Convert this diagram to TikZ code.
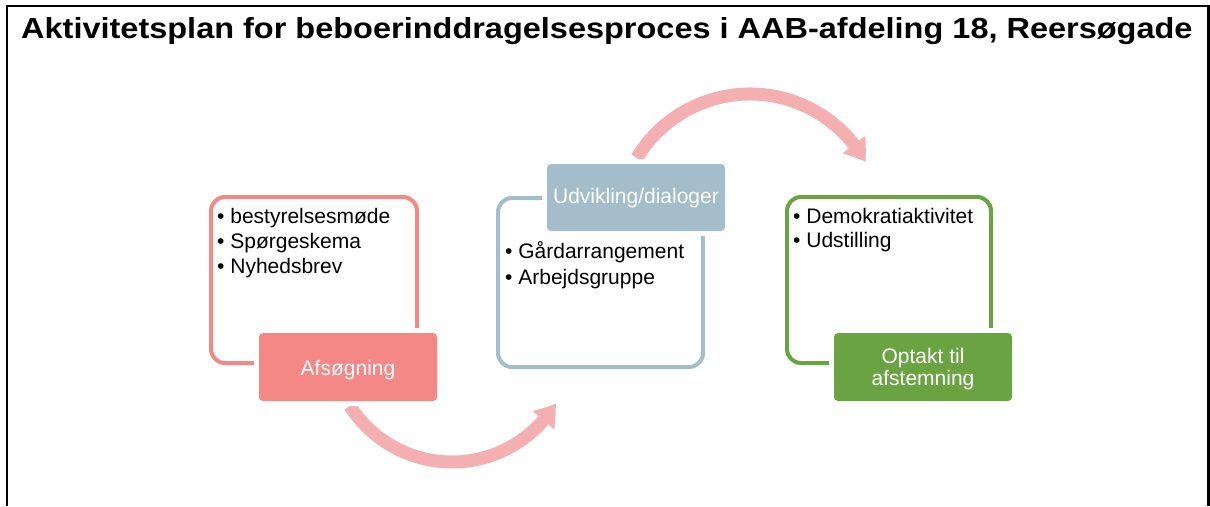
\documentclass[tikz,border=0pt]{standalone}
\usepackage{fontspec}
\setmainfont{Liberation Sans}
\usetikzlibrary{arrows.meta,bending}
\definecolor{redc}{RGB}{244,136,134}
\definecolor{arrc}{RGB}{244,176,176}
\definecolor{bluec}{RGB}{163,190,202}
\definecolor{greenc}{RGB}{106,164,66}
\tikzset{
  outlinebox/.style={line width=4pt, rounded corners=14pt},
  gapbox/.style={draw=white, fill=white, line width=10pt, rounded corners=4pt},
  fillbox/.style={rounded corners=4pt},
  bullet/.style={anchor=base west, inner sep=0pt, font=\fontsize{21}{25}\selectfont},
  boxlabel/.style={anchor=base, inner sep=0pt, text=white, font=\fontsize{21}{22}\selectfont, align=center},
  bigarrow/.style={draw=arrc, line width=13pt, -{Triangle[width=27pt,length=21pt,bend]}},
  frameline/.style={line width=2.2pt, black}
}
\begin{document}
\begin{tikzpicture}[x=1pt,y=-1pt]
\useasboundingbox (0,0) rectangle (1210,506);
% frame
\coordinate (f1) at (7,506);
\coordinate (f2) at (7,6);
\coordinate (f3) at (1208.5,6);
\coordinate (f4) at (1208.5,506);
\draw[frameline] (f1) -- (f2) -- (f3) -- (f4);
% title
\node[anchor=base west, inner sep=0pt, font=\fontsize{29}{30}\selectfont\bfseries] (title) at (21,38)
  {\scalebox{1.12}[1]{Aktivitetsplan for beboerinddragelsesproces i AAB-afdeling 18, Reersøgade}};
% arrows
\coordinate (c1) at (452,341);
\coordinate (c2) at (750,226);
\draw[bigarrow] (c1) ++(147.5:121) arc[start angle=147.5, end angle=31, radius=121];
\draw[bigarrow] (c2) ++(211:132) arc[start angle=211, end angle=331, radius=132];
% box 1
\draw[outlinebox, draw=redc] (211,197) rectangle (417,363);
\path[gapbox] (259,333) rectangle (437,401);
\fill[fillbox, redc] (259,333) rectangle (437,401);
\node[boxlabel] (afs) at (348,375) {Afsøgning};
\node[bullet] (b1a) at (217,223) {• bestyrelsesmøde};
\node[bullet] (b1b) at (217,248) {• Spørgeskema};
\node[bullet] (b1c) at (217,273) {• Nyhedsbrev};
% box 2
\draw[outlinebox, draw=bluec] (498,198) rectangle (703,367);
\path[gapbox] (547,164) rectangle (725,231);
\fill[fillbox, bluec] (547,164) rectangle (725,231);
\node[boxlabel] (udv) at (636,203) {Udvikling/dialoger};
\node[bullet] (b2a) at (505,258) {• Gårdarrangement};
\node[bullet] (b2b) at (505,284) {• Arbejdsgruppe};
% box 3
\draw[outlinebox, draw=greenc] (787,197) rectangle (991,363);
\path[gapbox] (834,333) rectangle (1012,401);
\fill[fillbox, greenc] (834,333) rectangle (1012,401);
\node[boxlabel] (opt) at (923,385) {Optakt til\\afstemning};
\node[bullet] (b3a) at (793,223) {• Demokratiaktivitet};
\node[bullet] (b3b) at (793,247) {• Udstilling};
\end{tikzpicture}
\end{document}
